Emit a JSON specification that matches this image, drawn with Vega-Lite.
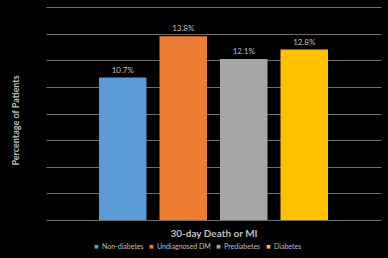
{
  "$schema": "https://vega.github.io/schema/vega-lite/v6.json",
  "width": 335,
  "height": 213,
  "autosize": {"type": "none"},
  "padding": {"left": 46, "top": 7, "right": 7, "bottom": 38},
  "background": "#000000",
  "config": {
    "view": {"stroke": null},
    "font": "Lato"
  },
  "data": {
    "values": [
      {"group": "Non-diabetes", "value": 0.107},
      {"group": "Undiagnosed DM", "value": 0.138},
      {"group": "Prediabetes", "value": 0.121},
      {"group": "Diabetes", "value": 0.128}
    ]
  },
  "encoding": {
    "x": {
      "field": "group",
      "type": "nominal",
      "sort": ["Non-diabetes", "Undiagnosed DM", "Prediabetes", "Diabetes"],
      "scale": {"paddingInner": 0.215, "paddingOuter": 0.876},
      "axis": {
        "title": "30-day Death or MI",
        "labels": false,
        "ticks": false,
        "domain": false,
        "titleColor": "#bfbfbf",
        "titleFontSize": 10,
        "titleFontWeight": "bold",
        "titleY": 13,
        "titleBaseline": "middle"
      }
    },
    "y": {
      "field": "value",
      "type": "quantitative",
      "scale": {"domain": [0, 0.16]},
      "axis": {
        "title": "Percentage of Patients",
        "values": [0, 0.02, 0.04, 0.06, 0.08, 0.1, 0.12, 0.14, 0.16],
        "labels": false,
        "ticks": false,
        "domain": false,
        "grid": true,
        "gridColor": "#6e6e6e",
        "gridWidth": 1,
        "titleColor": "#bfbfbf",
        "titleFontSize": 9,
        "titleFontWeight": "bold",
        "titleX": -31,
        "titleY": 113,
        "titleAngle": -90,
        "titleAlign": "center",
        "titleBaseline": "middle"
      }
    }
  },
  "layer": [
    {
      "mark": {"type": "bar"},
      "encoding": {
        "color": {
          "field": "group",
          "type": "nominal",
          "scale": {
            "domain": ["Non-diabetes", "Undiagnosed DM", "Prediabetes", "Diabetes"],
            "range": ["#5b9bd5", "#ed7d31", "#a5a5a5", "#ffc000"]
          },
          "legend": {
            "title": null,
            "orient": "none",
            "direction": "horizontal",
            "legendX": 47,
            "legendY": 236,
            "symbolType": "square",
            "symbolSize": 14,
            "symbolStrokeWidth": 0,
            "labelColor": "#bfbfbf",
            "labelFontSize": 7,
            "columnPadding": 4,
            "labelOffset": 2
          }
        }
      }
    },
    {
      "mark": {"type": "text", "baseline": "bottom", "dy": -3, "fontSize": 8, "color": "#bfbfbf"},
      "encoding": {
        "text": {"field": "value", "type": "quantitative", "format": ".1%"}
      }
    }
  ]
}
